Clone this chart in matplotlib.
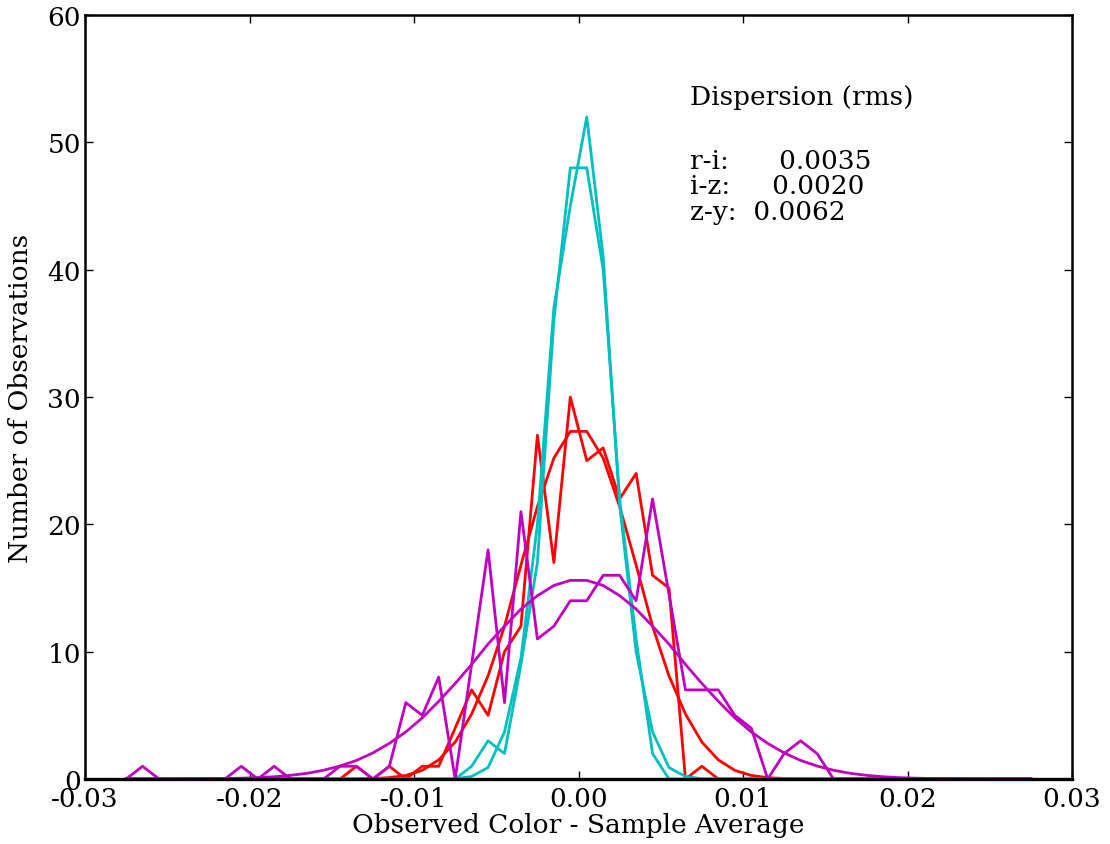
import numpy as np
import matplotlib
matplotlib.use("Agg")
import matplotlib.pyplot as plt

plt.rcParams["font.family"] = "DejaVu Serif"
plt.rcParams["axes.unicode_minus"] = False

# bin centres in units of 0.001
centres = np.arange(-27.5, 28.0, 1.0) * 0.001

ri_hist = [0] * 14 + [1, 0, 1, 0, 1, 1, 4, 7, 5, 10, 12, 27, 17, 30,
                      25, 26, 22, 24, 16, 15, 0, 1] + [0] * 20
ri_fit = [0] * 14 + [0.01, 0.04, 0.11, 0.28, 0.68, 1.5, 2.9, 5.1, 8.1, 12.0, 16.8, 21.4, 25.2, 27.3,
                     27.3, 25.2, 21.4, 16.8, 12.0, 8.1, 5.1, 2.9, 1.5, 0.68, 0.28, 0.11, 0.04, 0.01] + [0] * 14

iz_hist = [0] * 21 + [1, 3, 2, 9, 17, 36, 48, 48, 40, 22, 11, 2] + [0] * 23
iz_fit = [0] * 20 + [0.02, 0.2, 0.9, 3.7, 9.5, 20, 37, 45, 52, 41, 21.5, 10, 3.7, 0.9, 0.2, 0.02] + [0] * 20

zy_hist = [0, 1, 0, 0, 0, 0, 0, 1, 0, 1, 0, 0, 0, 1, 1, 0, 1, 6, 5, 8, 0, 9, 18, 6, 21, 11, 12, 14,
           14, 16, 16, 14, 22, 14.5, 7, 7, 7, 5, 4, 0, 2, 3, 2, 0] + [0] * 12
zy_half = [15.6, 15.2, 14.4, 13.35, 12.0, 10.6, 9.0, 7.5, 6.1, 4.8, 3.7, 2.8, 2.05, 1.46,
           1.02, 0.69, 0.45, 0.29, 0.18, 0.11, 0.066, 0.04, 0.02, 0.01, 0.005, 0, 0, 0]
zy_fit = zy_half[::-1] + zy_half

labels = ["r-i:      0.0035", "i-z:     0.0020", "z-y:  0.0062"]
label_y = [48, 46, 44]

fig = plt.figure(figsize=(11.1, 8.45), dpi=100)
ax = fig.add_axes([0.0766, 0.0769, 0.8892, 0.9041])

lw = 2.0
ax.plot(centres, ri_hist, color="r", lw=lw)
ax.plot(centres, ri_fit, color="r", lw=lw)
ax.plot(centres, iz_hist, color="c", lw=lw)
ax.plot(centres, iz_fit, color="c", lw=lw)
ax.plot(centres, zy_hist, color="m", lw=lw)
ax.plot(centres, zy_fit, color="m", lw=lw)

ax.set_xlim(-0.03, 0.03)
ax.set_ylim(0, 60)
ax.set_xticks([-0.03, -0.02, -0.01, 0.0, 0.01, 0.02, 0.03])
ax.set_xticklabels(["-0.03", "-0.02", "-0.01", "0.00", "0.01", "0.02", "0.03"])
ax.set_yticks(range(0, 61, 10))
ax.tick_params(direction="in", length=6, width=1, top=True, right=True, labelsize=19)
ax.tick_params(axis="x", pad=5)
ax.tick_params(axis="y", pad=3)
for s in ax.spines.values():
    s.set_linewidth(1.8)
ax.spines["bottom"].set_linewidth(2.4)

ax.set_xlabel("Observed Color - Sample Average", fontsize=19, labelpad=1)
ax.set_ylabel("Number of Observations", fontsize=19, labelpad=10)

ax.text(0.0068, 53, "Dispersion (rms)", fontsize=19)
for t, y in zip(labels, label_y):
    ax.text(0.0068, y, t, fontsize=19)

fig.savefig("out.png", dpi=100)
